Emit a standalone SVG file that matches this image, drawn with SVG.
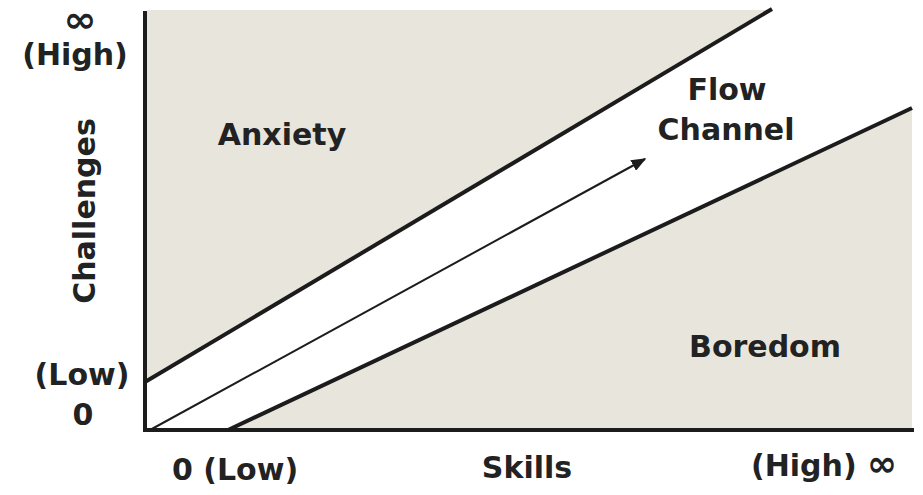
<svg xmlns="http://www.w3.org/2000/svg" width="923" height="495" viewBox="0 0 923 495">
  <style>
    .lbl { font-family: "DejaVu Sans", "Liberation Sans", sans-serif; font-weight: bold; font-size: 30px; fill: #222; }
    .inf { font-size: 36px; }
    .axis { stroke: #1c1c1c; stroke-width: 4; fill: none; stroke-linecap: square; }
    .bound { stroke: #1c1c1c; stroke-width: 4; fill: none; }
    .shade { fill: #e8e5dd; }
  </style>
  <defs>
    <marker id="ah2" viewBox="0 0 10 10" refX="9" refY="5" markerWidth="15" markerHeight="12" markerUnits="userSpaceOnUse" orient="auto" preserveAspectRatio="none">
      <path d="M0,0 L10,5 L0,10 z" fill="#1c1c1c"/>
    </marker>
  </defs>
  <rect width="923" height="495" fill="#ffffff"/>
  <g id="regions">
    <polygon id="anxiety-region" class="shade" points="147,10 772,10 147,382"/>
    <polygon id="boredom-region" class="shade" points="228,430 912,108 912,430"/>
  </g>
  <g id="connectors">
    <line class="bound" x1="145" y1="382" x2="772" y2="9"/>
    <line class="bound" x1="228" y1="430" x2="912" y2="108"/>
    <line x1="150" y1="430" x2="645" y2="159" stroke="#1c1c1c" stroke-width="2" marker-end="url(#ah2)"/>
    <line class="axis" x1="145" y1="13" x2="145" y2="430"/>
    <line class="axis" x1="145" y1="430" x2="912" y2="430"/>
  </g>
  <g id="labels">
    <g id="y-high"><text class="lbl inf" transform="translate(80,32) scale(1.1,1)" text-anchor="middle">∞</text>
    <text class="lbl" x="75" y="65" text-anchor="middle">(High)</text></g>
    <g id="y-axis-title"><text class="lbl" transform="translate(95,211) rotate(-90)" text-anchor="middle">Challenges</text></g>
    <g id="y-low"><text class="lbl" x="82" y="385" text-anchor="middle">(Low)</text>
    <text class="lbl" x="83" y="425" text-anchor="middle">0</text></g>
    <g id="anxiety"><text class="lbl" x="282" y="145" text-anchor="middle">Anxiety</text></g>
    <g id="flow-channel"><text class="lbl" x="727" y="100" text-anchor="middle">Flow</text>
    <text class="lbl" x="726" y="140" text-anchor="middle">Channel</text></g>
    <g id="boredom"><text class="lbl" x="765" y="357" text-anchor="middle">Boredom</text></g>
    <g id="x-low"><text class="lbl" x="235" y="480" text-anchor="middle">0 (Low)</text></g>
    <g id="x-axis-title"><text class="lbl" x="527" y="478" text-anchor="middle">Skills</text></g>
    <g id="x-high"><text class="lbl" x="824" y="476" text-anchor="middle">(High) <tspan class="inf">∞</tspan></text></g>
  </g>
</svg>
